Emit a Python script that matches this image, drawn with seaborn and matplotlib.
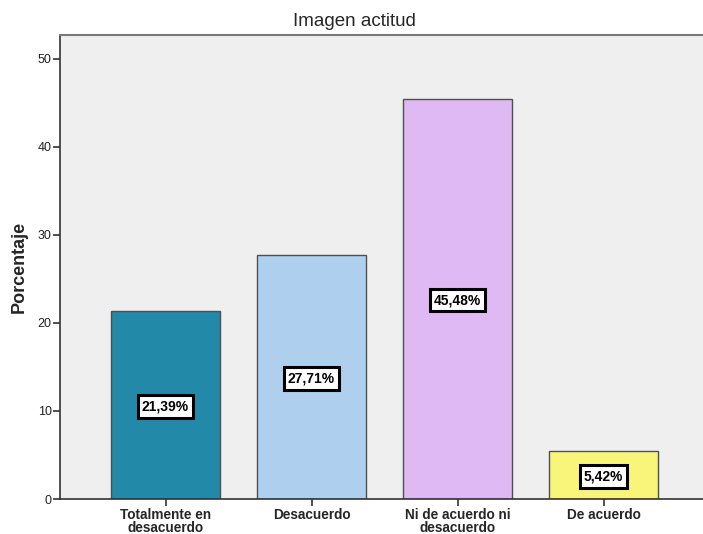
import matplotlib
matplotlib.use("Agg")
import matplotlib.pyplot as plt
import seaborn as sns
import pandas as pd

categories = ["Totalmente en\ndesacuerdo", "Desacuerdo", "Ni de acuerdo ni\ndesacuerdo", "De acuerdo"]
percentages = [21.39, 27.71, 45.48, 5.42]
bar_colors = ["#2389a8", "#aecfee", "#dfb9f3", "#f9f57a"]
y_ticks = [0, 10, 20, 30, 40, 50]

sns.set_style("white")
plt.rcParams["font.family"] = ["Liberation Sans", "DejaVu Sans"]

df = pd.DataFrame({"categoria": categories, "porcentaje": percentages})

fig = plt.figure(figsize=(7.03, 5.34), dpi=100)
ax = fig.add_axes([60 / 703, 35 / 534, 643 / 703, 464 / 534])
ax.set_facecolor("#efefef")

sns.barplot(data=df, x="categoria", y="porcentaje", hue="categoria",
            palette=bar_colors, width=0.747, edgecolor="#505050",
            linewidth=1.0, saturation=1, legend=False, ax=ax)

for i, v in enumerate(percentages):
    ax.text(i, v / 2, f"{v:.2f}%".replace(".", ","), ha="center", va="center_baseline",
            fontsize=10, fontweight="bold", color="black",
            bbox=dict(boxstyle="square,pad=0.3", facecolor="white",
                      edgecolor="black", linewidth=2.2))

ax.set_xlim(-0.7226, 3.681)
ax.set_ylim(0, 52.7)
ax.set_yticks(y_ticks)
ax.set_yticklabels([str(t) for t in y_ticks], fontsize=9, color="#222222")
ax.set_xticks(range(len(categories)))
ax.set_xticklabels(categories, fontsize=9.8, fontweight="bold", linespacing=0.9)
ax.tick_params(axis="y", direction="out", length=5, width=1.2, color="#333333", pad=1, left=True)
ax.tick_params(axis="x", direction="out", length=5, width=1.2, color="#333333", pad=1.5, bottom=True)

ax.set_xlabel("")
ax.set_ylabel("Porcentaje", fontsize=13, fontweight="bold", labelpad=7)

fig.text(354 / 703, 1 - 21 / 534, "Imagen actitud", ha="center", va="center", fontsize=13.5)

for side in ["left", "bottom"]:
    ax.spines[side].set_color("#333333")
    ax.spines[side].set_linewidth(1.2)
ax.spines["top"].set_color("#7a7a7a")
ax.spines["top"].set_linewidth(1.5)
ax.spines["right"].set_visible(False)

fig.savefig("out.png", dpi=100)
